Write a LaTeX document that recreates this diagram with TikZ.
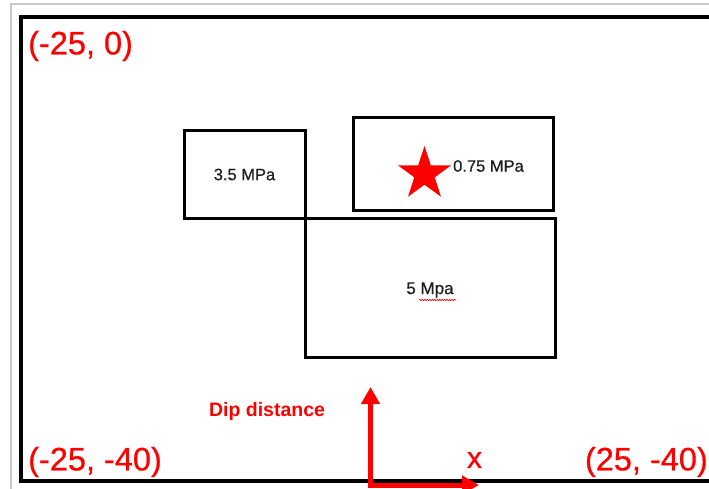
\documentclass[tikz,border=0pt]{standalone}
\usepackage{fontspec}
\setmainfont{Liberation Sans}
\newfontfamily\medfont[FakeBold=0.6]{Liberation Sans}
\usetikzlibrary{arrows.meta,shapes.geometric,decorations.pathmorphing}
\definecolor{pured}{RGB}{255,0,0}
\definecolor{txtgray}{RGB}{30,30,30}
\begin{document}
\begin{tikzpicture}[x=1pt,y=-1pt,
  box/.style={draw=black,line width=3pt,minimum width=#1,inner sep=0pt,font=\medfont\fontsize{16.5}{18}\selectfont,text=txtgray},
  coordlabel/.style={text=pured,inner sep=0pt,font=\medfont\fontsize{32.5}{34}\selectfont},
  frameline/.style={draw=black,line width=3.5pt},
  redarrow/.style={draw=pured,line width=5pt,line join=miter,{Triangle[width=18pt,length=17pt]}-{Triangle[width=18pt,length=17pt]}}
]
\useasboundingbox (0,0) rectangle (709,489);
\clip (0,0) rectangle (709,489);
% light gray outer border
\draw[draw={rgb,255:red,200;green,200;blue,200},line width=1.2pt] (11,489) -- (11,4) -- (712,4);
% black frame
\draw[frameline] (715,17) -- (21,17) -- (21,481) -- (715,481);
% boxes
\node[box=121pt,minimum height=87pt] (b35) at (244.5,174.5) {3.5 MPa};
\node[box=200pt,minimum height=92pt] (b075) at (453,164) {};
\node[box=250pt,minimum height=139pt] (b5) at (430,287.5) {};
\node[inner sep=0pt,font=\medfont\fontsize{17}{18}\selectfont,text=txtgray] (t5) at (430,290) {5 Mpa};
\draw[pured,line width=0.6pt,decorate,decoration={snake,amplitude=0.7pt,segment length=2.5pt}] (419,300) -- (456,300);
% star and label
\node[star,star points=5,star point ratio=2.6,fill=pured,draw=none,minimum size=56pt,inner sep=0pt] (st) at (424.5,174) {};
\node[anchor=west,inner sep=0pt,font=\medfont\fontsize{16.5}{18}\selectfont,text=txtgray] (t075) at (453,166) {0.75 MPa};
% coordinate labels
\node[coordlabel,anchor=west] (c1) at (28,46) {(-25, 0)};
\node[coordlabel,anchor=west] (c2) at (28,462) {(-25, -40)};
\node[coordlabel,anchor=east] (c3) at (708,462) {(25, -40)};
% axes
\coordinate (o) at (370.5,485);
\coordinate (ytip) at (370.5,387);
\coordinate (xtip) at (479,485);
\draw[redarrow] (ytip) -- (o) -- (xtip);
\node[text=pured,inner sep=0pt,font=\medfont\fontsize{30}{30}\selectfont] (xl) at (474.5,460) {x};
\node[text=pured,inner sep=0pt,font=\bfseries\fontsize{19.5}{20}\selectfont] (dip) at (267,411) {Dip distance};
\end{tikzpicture}
\end{document}
